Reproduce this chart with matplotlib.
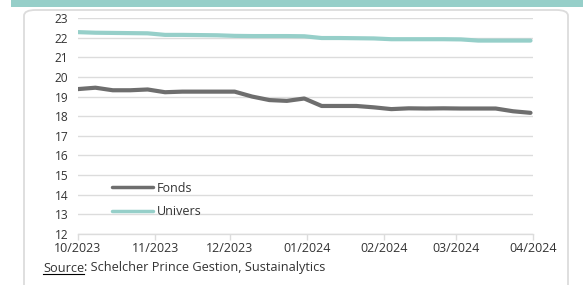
import matplotlib
matplotlib.use('Agg')

import numpy as np
import pandas as pd
import matplotlib.pyplot as plt
import matplotlib.dates as mdates
from matplotlib.patches import FancyBboxPatch, Rectangle
from matplotlib.lines import Line2D

# ==========================================
# DATA (weekly)
# ==========================================
dates = pd.date_range('2023-10-01', periods=27, freq='7D')

fonds = [19.38, 19.45, 19.32, 19.32, 19.36, 19.22, 19.25, 19.25, 19.25,
         19.25, 19.00, 18.82, 18.78, 18.90, 18.52, 18.52, 18.52, 18.45,
         18.36, 18.40, 18.39, 18.40, 18.39, 18.39, 18.39, 18.25, 18.17]

univers = [22.28, 22.25, 22.24, 22.23, 22.22, 22.14, 22.14, 22.13, 22.12,
           22.09, 22.08, 22.08, 22.08, 22.07, 21.98, 21.98, 21.97, 21.96,
           21.92, 21.92, 21.92, 21.92, 21.91, 21.85, 21.85, 21.85, 21.85]

month_ticks = pd.to_datetime(['2023-10-01', '2023-11-01', '2023-12-01', '2024-01-01',
                              '2024-02-01', '2024-03-01', '2024-04-01'])
month_labels = ['10/2023', '11/2023', '12/2023', '01/2024', '02/2024', '03/2024', '04/2024']
y_ticks = list(range(12, 24))

# ==========================================
# STYLE
# ==========================================
plt.rcParams['font.family'] = ['Open Sans', 'DejaVu Sans']
TEXT = '#333333'
GRID = '#dcdcdc'
C_FONDS = '#6e6e6e'
C_UNIV = '#96cfc9'
FS = 9.0

W, H = 583, 285
fig = plt.figure(figsize=(W / 100, H / 100), dpi=100)

# teal banner + rounded frame
fig.patches.append(Rectangle((11 / W, 1 - 7 / H), 1, 7 / H, transform=fig.transFigure,
                             facecolor='#96cfc9', edgecolor='none', zorder=0))
fig.patches.append(FancyBboxPatch((24 / W, -0.1), (568 - 24) / W, 1 - 10 / H + 0.1,
                                  boxstyle='round,pad=0,rounding_size=0.02',
                                  transform=fig.transFigure, facecolor='none',
                                  edgecolor='#dcdcdc', linewidth=1.3, zorder=0))

ax = fig.add_axes([78 / W, 51 / H, (533 - 78) / W, (267 - 51) / H])

ax.plot(dates, fonds, color=C_FONDS, linewidth=3.0, label='Fonds', solid_capstyle='round')
ax.plot(dates, univers, color=C_UNIV, linewidth=3.0, label='Univers', solid_capstyle='round')

ax.set_ylim(12, 23)
ax.set_xlim(month_ticks[0], month_ticks[-1])
ax.set_yticks(y_ticks)
ax.set_xticks(month_ticks)
ax.set_xticklabels(month_labels)

ax.grid(True, axis='y', color=GRID, linewidth=1.0)
ax.set_axisbelow(True)
for s in ['top', 'right', 'left']:
    ax.spines[s].set_visible(False)
ax.spines['bottom'].set_color(GRID)
ax.spines['bottom'].set_linewidth(1.0)

ax.tick_params(axis='y', length=0, pad=7, labelsize=8.6, labelcolor=TEXT)
ax.tick_params(axis='x', length=4, width=1.0, color=GRID, pad=1.5, labelsize=FS, labelcolor=TEXT)

leg = ax.legend(loc='upper left', bbox_to_anchor=(0.05, 0.295), frameon=False,
                handlelength=3.3, handletextpad=0.3, labelspacing=0.85, fontsize=FS)
for t in leg.get_texts():
    t.set_color(TEXT)
for h in leg.legend_handles:
    h.set_linewidth(2.5)

# source line with underlined "Source"
src = fig.text(43 / W, 1 - 268 / H, 'Source', fontsize=9.2, color=TEXT, va='center')
fig.canvas.draw()
bb = src.get_window_extent()
fig.text(bb.x1 / W, 1 - 268 / H, ': Schelcher Prince Gestion, Sustainalytics',
         fontsize=9.2, color=TEXT, va='center')
fig.lines.append(Line2D([bb.x0 / W, bb.x1 / W], [(bb.y0 + 1) / H] * 2,
                        transform=fig.transFigure, color='black', linewidth=0.8))

fig.savefig('out.png', dpi=100)
